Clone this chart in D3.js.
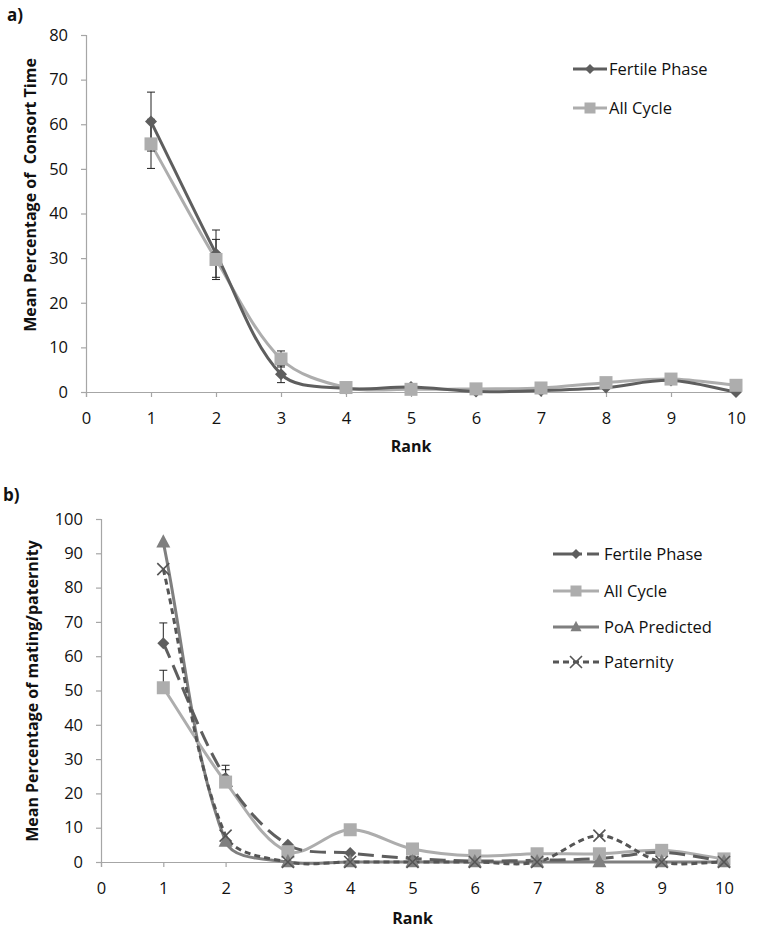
<!DOCTYPE html>
<html>
<head>
<meta charset="utf-8">
<script src="https://cdn.jsdelivr.net/npm/d3@7"></script>
<style>
  html, body { margin: 0; padding: 0; background: #fff; }
  svg { display: block; }
  text { font-family: "Open Sans", "Liberation Sans", sans-serif; fill: #111; }
</style>
</head>
<body>
<svg id="chart" width="767" height="928"></svg>
<script>
// ---------- DATA ----------
const ranks = [1, 2, 3, 4, 5, 6, 7, 8, 9, 10];

// Panel a: Mean Percentage of Consort Time
const aFertile     = [60.6, 31.0, 4.0, 0.8, 1.1, 0.1, 0.3, 1.0, 2.6, 0.0];
const aFertileErr  = [6.6, 5.3, 1.9, null, null, null, null, null, null, null];
const aAllCycle    = [55.6, 29.7, 7.4, 1.0, 0.6, 0.7, 0.9, 2.1, 2.9, 1.5];
const aAllCycleErr = [5.5, 4.5, 1.8, null, null, null, null, null, null, null];
const aYTicks = [0, 10, 20, 30, 40, 50, 60, 70, 80];

// Panel b: Mean Percentage of mating/paternity
const bFertile     = [63.8, 24.5, 5.0, 2.6, 1.0, 0.3, 0.5, 1.0, 2.8, 0.2];
const bFertileErr  = [5.9, 3.7, null, null, null, null, null, null, null, null];
const bAllCycle    = [50.8, 23.3, 3.0, 9.4, 3.8, 1.8, 2.4, 2.4, 3.4, 0.9];
const bAllCycleErr = [5.1, 3.6, null, null, null, null, null, null, null, null];
const bPoA         = [93.2, 6.0, 0, 0, 0, 0, 0, 0, 0, 0];
const bPaternity   = [85.4, 7.7, 0, 0, 0, 0, 0, 7.7, 0, 0];
const bYTicks = [0, 10, 20, 30, 40, 50, 60, 70, 80, 90, 100];

const xTicks = [0, 1, 2, 3, 4, 5, 6, 7, 8, 9, 10];

// ---------- STYLE ----------
const cDark = "#5e5e5e";
const cLight = "#adadad";
const cMid = "#7f7f7f";
const cPat = "#555555";
const axisColor = "#a6a6a6";
const tickFont = 16.5;

// Spreadsheet-style smoothed line: Bezier segments with chord-weighted tangents
function ExcelSmooth(context) { this._context = context; }
ExcelSmooth.prototype = {
  areaStart() { this._line = 0; },
  areaEnd() { this._line = NaN; },
  lineStart() { this._pts = []; },
  point(x, y) { this._pts.push([+x, +y]); },
  lineEnd() {
    const p = this._pts, n = p.length, c = this._context;
    if (!n) return;
    c.moveTo(p[0][0], p[0][1]);
    if (n === 1) return;
    const dist = (a, b) => Math.hypot(b[0] - a[0], b[1] - a[1]);
    const tan = i => {
      const a = p[Math.max(i - 1, 0)], b = p[i], d = p[Math.min(i + 1, n - 1)];
      const din = dist(a, b), dout = dist(b, d), s = din + dout || 1;
      return { t: [d[0] - a[0], d[1] - a[1]], fin: din / s, fout: dout / s };
    };
    for (let i = 0; i < n - 1; i++) {
      const A = tan(i), B = tan(i + 1);
      const c1 = [p[i][0] + A.t[0] * A.fout / 3, p[i][1] + A.t[1] * A.fout / 3];
      const c2 = [p[i + 1][0] - B.t[0] * B.fin / 3, p[i + 1][1] - B.t[1] * B.fin / 3];
      c.bezierCurveTo(c1[0], c1[1], c2[0], c2[1], p[i + 1][0], p[i + 1][1]);
    }
  }
};
const curveExcel = ctx => new ExcelSmooth(ctx);

const svg = d3.select("#chart");

function drawAxes(g, x, y, yTicks, yLabel, labelY, rankY) {
  const xAxis = g.append("g")
    .attr("transform", `translate(0,${y(0)})`)
    .call(d3.axisBottom(x).tickValues(xTicks).tickSize(5).tickPadding(15).tickFormat(d3.format("d")));
  const yAxis = g.append("g")
    .attr("transform", `translate(${x(0)},0)`)
    .call(d3.axisLeft(y).tickValues(yTicks).tickSize(5).tickPadding(13).tickFormat(d3.format("d")));
  [xAxis, yAxis].forEach(a => {
    a.select(".domain").attr("stroke", axisColor).attr("stroke-width", 1.2);
    a.selectAll(".tick line").attr("stroke", axisColor).attr("stroke-width", 1.2);
    a.selectAll(".tick text").style("font-size", tickFont + "px").attr("fill", "#111")
      .style("font-family", '"Open Sans", sans-serif');
  });
  g.append("text")
    .attr("x", (x(0) + x(10)) / 2).attr("y", rankY)
    .attr("text-anchor", "middle")
    .style("font-size", "16px").style("font-weight", "bold")
    .text("Rank");
  g.append("text")
    .attr("transform", `translate(${labelY.x},${labelY.y}) rotate(-90)`)
    .attr("text-anchor", "middle")
    .style("font-size", "16px").style("font-weight", "bold")
    .style("white-space", "pre")
    .attr("xml:space", "preserve")
    .text(yLabel);
}

function drawSeries(g, x, y, vals, color, dash, width) {
  const line = d3.line()
    .x((d, i) => x(ranks[i]))
    .y(d => y(d))
    .curve(curveExcel);
  g.append("path")
    .datum(vals)
    .attr("d", line)
    .attr("fill", "none")
    .attr("stroke", color)
    .attr("stroke-width", width)
    .attr("stroke-dasharray", dash || null)
    .attr("stroke-linejoin", "round");
}

function marker(g, type, cx, cy, color, s) {
  if (type === "diamond") {
    g.append("path")
      .attr("d", `M${cx},${cy - s}L${cx + s},${cy}L${cx},${cy + s}L${cx - s},${cy}Z`)
      .attr("fill", color);
  } else if (type === "square") {
    g.append("rect")
      .attr("x", cx - s).attr("y", cy - s).attr("width", 2 * s).attr("height", 2 * s)
      .attr("fill", color);
  } else if (type === "triangle") {
    g.append("path")
      .attr("d", `M${cx},${cy - s * 1.15}L${cx + s},${cy + s * 0.75}L${cx - s},${cy + s * 0.75}Z`)
      .attr("fill", color);
  } else if (type === "x") {
    g.append("path")
      .attr("d", `M${cx - s},${cy - s}L${cx + s},${cy + s}M${cx - s},${cy + s}L${cx + s},${cy - s}`)
      .attr("stroke", color).attr("stroke-width", 1.6).attr("fill", "none");
  }
}

function drawMarkers(g, x, y, vals, type, color, s) {
  vals.forEach((v, i) => marker(g, type, x(ranks[i]), y(v), color, s));
}

function drawErr(g, x, y, vals, errs, both) {
  vals.forEach((v, i) => {
    const e = errs[i];
    if (e == null) return;
    const cx = x(ranks[i]);
    const top = y(v + e);
    const bot = both ? y(v - e) : y(v);
    g.append("line").attr("x1", cx).attr("x2", cx).attr("y1", top).attr("y2", bot)
      .attr("stroke", "#222").attr("stroke-width", 1);
    g.append("line").attr("x1", cx - 4).attr("x2", cx + 4).attr("y1", top).attr("y2", top)
      .attr("stroke", "#222").attr("stroke-width", 1);
    if (both) {
      g.append("line").attr("x1", cx - 4).attr("x2", cx + 4).attr("y1", bot).attr("y2", bot)
        .attr("stroke", "#222").attr("stroke-width", 1);
    }
  });
}

function legendItem(g, x0, x1, y, color, dash, type, s, label, textX, width) {
  g.append("line").attr("x1", x0).attr("x2", x1).attr("y1", y).attr("y2", y)
    .attr("stroke", color).attr("stroke-width", width).attr("stroke-dasharray", dash || null);
  marker(g, type, (x0 + x1) / 2, y, color, s);
  g.append("text").attr("x", textX).attr("y", y).attr("dy", "0.35em")
    .style("font-size", tickFont + "px").text(label);
}

// ---------- PANEL A ----------
const gA = svg.append("g");
const xA = d3.scaleLinear().domain([0, 10]).range([86, 736]);
const yA = d3.scaleLinear().domain([0, 80]).range([392, 35]);
svg.append("text").attr("x", 7).attr("y", 21).style("font-size", "17px").style("font-weight", "bold").text("a)");
drawAxes(gA, xA, yA, aYTicks, "Mean Percentage of  Consort Time", {x: 36, y: 195}, 452);
drawSeries(gA, xA, yA, aAllCycle, cLight, null, 3);
drawSeries(gA, xA, yA, aFertile, cDark, null, 3);
drawErr(gA, xA, yA, aFertile, aFertileErr, true);
drawErr(gA, xA, yA, aAllCycle, aAllCycleErr, true);
drawMarkers(gA, xA, yA, aFertile, "diamond", cDark, 6);
drawMarkers(gA, xA, yA, aAllCycle, "square", cLight, 6.5);
const legA = svg.append("g");
legendItem(legA, 573, 607, 69, cDark, null, "diamond", 5, "Fertile Phase", 609, 3);
legendItem(legA, 573, 607, 108, cLight, null, "square", 5.5, "All Cycle", 609, 3);

// ---------- PANEL B ----------
const gB = svg.append("g");
const xB = d3.scaleLinear().domain([0, 10]).range([101, 724]);
const yB = d3.scaleLinear().domain([0, 100]).range([862, 519]);
svg.append("text").attr("x", 3).attr("y", 501).style("font-size", "17px").style("font-weight", "bold").text("b)");
drawAxes(gB, xB, yB, bYTicks, "Mean Percentage of mating/paternity", {x: 38, y: 691}, 924);
drawSeries(gB, xB, yB, bPoA, cMid, null, 3);
drawSeries(gB, xB, yB, bAllCycle, cLight, null, 3);
drawSeries(gB, xB, yB, bFertile, cDark, "16,8", 3);
drawSeries(gB, xB, yB, bPaternity, cPat, "6,4", 3);
drawErr(gB, xB, yB, bFertile, bFertileErr, false);
drawErr(gB, xB, yB, bAllCycle, bAllCycleErr, false);
drawMarkers(gB, xB, yB, bFertile, "diamond", cDark, 6);
drawMarkers(gB, xB, yB, bAllCycle, "square", cLight, 6.5);
drawMarkers(gB, xB, yB, bPoA, "triangle", cMid, 7);
drawMarkers(gB, xB, yB, bPaternity, "x", cPat, 6);
const legB = svg.append("g");
legendItem(legB, 553, 599, 554, cDark, "20,5,4,5", "diamond", 5, "Fertile Phase", 604, 3);
legendItem(legB, 553, 599, 591, cLight, null, "square", 5.5, "All Cycle", 604, 3);
legendItem(legB, 553, 599, 627, cMid, null, "triangle", 5.5, "PoA Predicted", 604, 3);
legendItem(legB, 553, 599, 662, cPat, "6,4", "x", 6, "Paternity", 604, 3);
</script>
</body>
</html>
